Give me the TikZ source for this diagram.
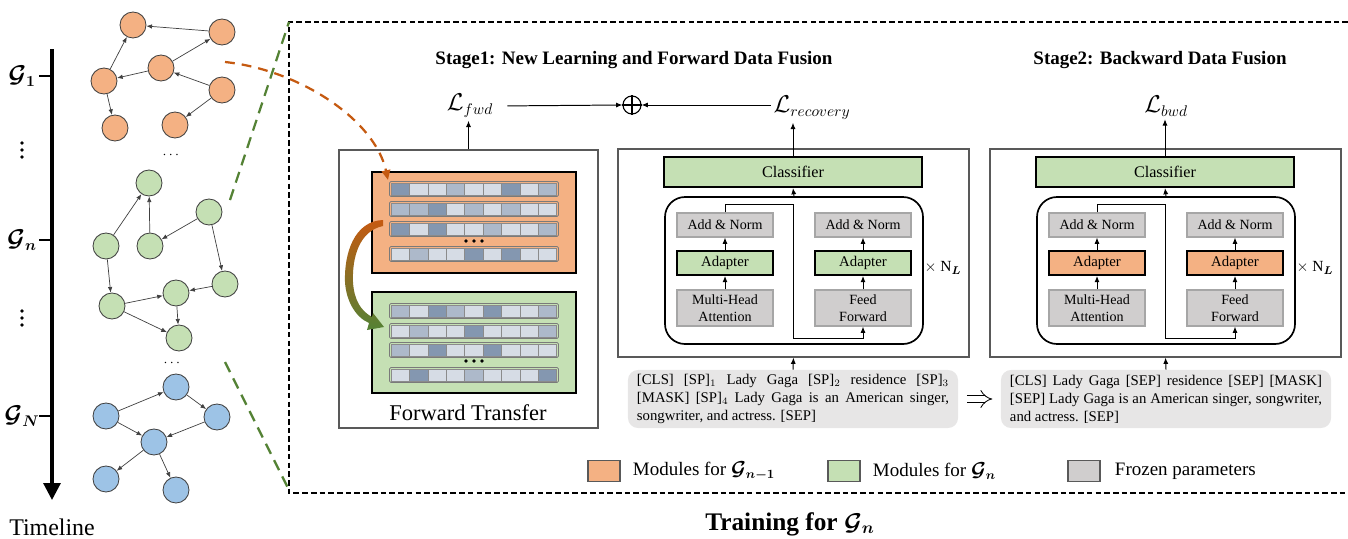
\documentclass[tikz,border=0pt]{standalone}
\usepackage{amsmath,bm}
\usepackage{fontspec}
\setmainfont{Liberation Serif}
\usetikzlibrary{arrows.meta,calc,fit}
\definecolor{CDark}{HTML}{404040}
\definecolor{CGrayDark}{HTML}{595959}
\definecolor{COrange}{HTML}{F4B183}
\definecolor{CGreen}{HTML}{C5E0B4}
\definecolor{CBlue}{HTML}{9DC3E6}
\definecolor{CGray}{HTML}{D0CECE}
\definecolor{CGrayLine}{HTML}{A6A6A6}
\definecolor{CText}{HTML}{E7E6E6}
\definecolor{CellL}{HTML}{D6DCE5}
\definecolor{CellM}{HTML}{ADB9CA}
\definecolor{CellD}{HTML}{8497B0}
\definecolor{CDashGreen}{HTML}{548235}
\definecolor{CDashOrange}{HTML}{C55A11}

\tikzset{
  gnode/.style={circle, draw=CDark, line width=0.6pt, minimum size=0.65cm, inner sep=0pt},
  garrow/.style={-{Latex[length=4pt,width=3.2pt]}, line width=0.5pt, draw=CDark},
  conn/.style={-{Latex[length=4.5pt,width=3.6pt]}, line width=0.7pt},
  panel/.style={draw=CGrayDark, line width=0.8pt, inner sep=0pt},
  modbox/.style={draw=black, line width=1.5pt, inner sep=0pt},
  clsbox/.style={draw=black, line width=1.4pt, fill=CGreen, minimum width=6.45cm, minimum height=0.75cm, font=\fontsize{11.5}{13}\selectfont},
  layerbox/.style={draw=black, line width=1.2pt, rounded corners=0.5cm, inner sep=0pt},
  frozen/.style={draw=CGrayLine, line width=0.8pt, fill=CGray, minimum width=2.4cm, minimum height=0.6cm, align=center, inner sep=1pt, font=\fontsize{10}{12}\selectfont},
  adapter/.style={draw=black, line width=1.3pt, minimum width=2.4cm, minimum height=0.6cm, inner sep=1pt, font=\fontsize{10.5}{12}\selectfont},
  loss/.style={font=\fontsize{16}{16}\selectfont, inner sep=2pt},
  stagetitle/.style={font=\fontsize{13.5}{15}\selectfont\bfseries},
  txtbox/.style={fill=CText, rounded corners=0.25cm, text width=7.8cm, align=justify, inner xsep=6.4pt, inner ysep=3pt, minimum height=1.45cm, font=\fontsize{10.5}{12.8}\selectfont},
  legbox/.style={draw=CGrayDark, line width=0.8pt, minimum width=0.8cm, minimum height=0.52cm},
  legtext/.style={anchor=west, font=\fontsize{13.5}{15}\selectfont},
  rowframe/.style={draw=CGrayDark!80, line width=0.5pt, rounded corners=1pt},
  cellbox/.style={draw=CGrayDark!70, line width=0.4pt},
}

\begin{document}
\begin{tikzpicture}[x=0.025cm, y=-0.025cm]
  \useasboundingbox (0,0) rectangle (1348,539);

  % ============================================
  % TIMELINE
  % ============================================
  \draw[line width=2.2pt, -{Triangle[length=0.42cm,width=0.42cm]}] (52,49) -- (52,500);
  \foreach \yy in {76, 240, 416} {
    \draw[line width=1.8pt] (39,\yy) -- (52,\yy);
  }
  \node[font=\fontsize{16}{16}\selectfont] (lg1) at (22,76) {$\boldsymbol{\mathcal{G}_1}$};
  \node[font=\fontsize{16}{16}\selectfont] (lgn) at (22,240) {$\boldsymbol{\mathcal{G}_n}$};
  \node[font=\fontsize{16}{16}\selectfont] (lgN) at (22,416) {$\boldsymbol{\mathcal{G}_N}$};
  % vertical ellipses
  \foreach \yy in {150, 318} {
    \foreach \dy in {-7, 0, 7} {
      \fill (22,\yy+\dy) circle[radius=1.3pt];
    }
  }
  \node[font=\fontsize{17}{17}\selectfont] (tline) at (52,527) {Timeline};

  % Graph G_1 (orange)
  \foreach \n/\x/\y in {o1/133/25, o2/222/32, o3/161/68, o4/104/81, o5/222/90, o6/115/128, o7/175/125} {
    \node[gnode, fill=COrange] (\n) at (\x,\y) {};
  }
  \foreach \a/\b in {o2/o1, o3/o2, o3/o4, o4/o1, o5/o3, o5/o7, o4/o6} {
    \draw[garrow] (\a) -- (\b);
  }
  \node[font=\bfseries] (dots1) at (172,155) {$\cdots$};

  % Graph G_n (green)
  \foreach \n/\x/\y in {g1/149/183, g2/209/212, g3/106/246, g4/150/246, g5/112/306, g6/176/293, g7/225/284, g8/179/338} {
    \node[gnode, fill=CGreen] (\n) at (\x,\y) {};
  }
  \foreach \a/\b in {g3/g1, g4/g1, g2/g4, g2/g7, g3/g5, g5/g6, g7/g6, g6/g8, g5/g8} {
    \draw[garrow] (\a) -- (\b);
  }
  \node[font=\bfseries] (dots2) at (173,363) {$\cdots$};

  % Graph G_N (blue)
  \foreach \n/\x/\y in {b1/176/387, b2/106/416, b3/217/417, b4/154/442, b5/106/479, b6/176/490} {
    \node[gnode, fill=CBlue] (\n) at (\x,\y) {};
  }
  \foreach \a/\b in {b2/b1, b1/b3, b3/b4, b2/b4, b4/b5, b4/b6} {
    \draw[garrow] (\a) -- (\b);
  }

  % ============================================
  % ZOOM FRAME
  % ============================================
  \draw[line width=1.2pt, dash pattern=on 4pt off 2.2pt] (1348,22) -- (289,22) -- (289,493) -- (1348,493);
  \draw[CDashGreen, line width=1.6pt, dash pattern=on 8pt off 5pt] (230,200) -- (289,22);
  \draw[CDashGreen, line width=1.6pt, dash pattern=on 8pt off 5pt] (225,362) -- (289,490);

  % Titles
  \node[stagetitle] (s1title) at (634,60) {Stage1: New Learning and Forward Data Fusion};
  \node[stagetitle] (s2title) at (1160,60) {Stage2: Backward Data Fusion};

  % ============================================
  % FORWARD TRANSFER
  % ============================================
  \node[fit={(339,150) (598,428)}, panel] (ftbox) {};
  \node[fit={(372,172) (576,273)}, modbox, fill=COrange] (prevmod) {};
  \node[fit={(372,292) (576,393)}, modbox, fill=CGreen] (curmod) {};

  % embedding rows
  \foreach \yy/\cells in {189/{D,L,L,M,L,L,D,L,M}, 209/{M,M,D,L,M,L,M,L,L},
      229/{D,L,D,L,L,M,L,L,M}, 254/{L,M,L,L,D,L,D,L,L},
      311/{M,L,D,M,L,D,L,L,M}, 331/{L,M,L,L,D,L,L,L,M},
      350/{M,L,D,L,L,D,L,L,L}, 375/{L,D,L,L,M,L,L,L,D}} {
    \draw[rowframe] (389.5,\yy-7.5) rectangle (558.5,\yy+7.5);
    \foreach \c [count=\i] in \cells {
      \draw[cellbox, fill=Cell\c] ({391+18.4*(\i-1)},\yy-6) rectangle ++(18.4,12);
    }
  }
  \foreach \yy in {241, 361} {
    \foreach \x in {466, 474, 482} {
      \fill (\x,\yy) circle[radius=1.4pt];
    }
  }

  % curved transfer arrow
  \shade[top color=CDashOrange, bottom color=CDashGreen]
    (383,226) .. controls (359,231) and (352,258) .. (353,282)
    .. controls (354,300) and (361,311) .. (372,317)
    -- (373,313) -- (384,327) -- (367,330) -- (369,323)
    .. controls (355,317) and (346,300) .. (345,282)
    .. controls (344,254) and (354,221) .. (383,220) -- cycle;

  \node[font=\fontsize{16}{16}\selectfont] (fttext) at (468,413) {Forward Transfer};

  % dashed link from G_1
  \draw[CDashOrange, line width=1.6pt, dash pattern=on 7pt off 5pt, -{Triangle[length=7pt,width=6pt]}]
    (225,62) .. controls (300,70) and (375,120) .. (388,180);

  % ============================================
  % STAGE 1 / STAGE 2 ENCODERS
  % ============================================
  \foreach \s/\dx/\acol in {1/0/CGreen, 2/372/COrange} {
    \node[fit={({618+\dx},149) ({969+\dx},357)}, panel] (sbox\s) {};
    \node[clsbox] (cls\s) at ({793+\dx},172) {Classifier};
    \node[fit={({665+\dx},197) ({923+\dx},344)}, layerbox] (layer\s) {};
    % left column
    \node[frozen] (lan\s) at ({725+\dx},225) {Add \& Norm};
    \node[adapter, fill=\acol] (lad\s) at ({725+\dx},263) {Adapter};
    \node[frozen, minimum height=0.9cm] (mha\s) at ({725+\dx},308) {Multi-Head\\Attention};
    % right column
    \node[frozen] (ran\s) at ({863+\dx},225) {Add \& Norm};
    \node[adapter, fill=\acol] (rad\s) at ({863+\dx},263) {Adapter};
    \node[frozen, minimum height=0.9cm] (ff\s) at ({863+\dx},308) {Feed\\Forward};
    \node[font=\fontsize{11}{12}\selectfont] (nl\s) at ({943+\dx},268) {$\times$ N$_{\boldsymbol{L}}$};

    \draw[conn] (mha\s) -- (lad\s);
    \draw[conn] (lad\s) -- (lan\s);
    \draw[conn] (ff\s) -- (rad\s);
    \draw[conn] (rad\s) -- (ran\s);
    \draw[conn] (layer\s.north) -- (cls\s.south);
    % residual route
    \coordinate (ra\s) at ({793+\dx},204);
    \coordinate (rb\s) at ({793+\dx},338);
    \draw[conn] (lan\s.north) |- (ra\s) -- (rb\s) -| (ff\s.south);
  }

  % Losses
  \node[loss] (lfwd) at (470,106) {$\mathcal{L}_{fwd}$};
  \node[loss] (lrec) at (812,108) {$\mathcal{L}_{recovery}$};
  \node[loss] (lbwd) at (1166,106) {$\mathcal{L}_{bwd}$};
  \node[circle, draw, line width=0.8pt, minimum size=0.45cm, inner sep=0pt] (oplus) at (632,105) {};
  \draw[line width=0.8pt] (oplus.north) -- (oplus.south) (oplus.west) -- (oplus.east);
  \draw[conn, shorten <=8pt] (lfwd.east) -- (oplus.west);
  \draw[conn] (lrec.west |- oplus.east) -- (oplus.east);
  \draw[conn] (ftbox.north) -- (ftbox.north |- lfwd.south);
  \draw[conn] (cls1.north) -- (cls1.north |- lrec.south);
  \draw[conn] (cls2.north) -- (cls2.north |- lbwd.south);

  % ============================================
  % INPUT SEQUENCES
  % ============================================
  \node[txtbox] (seq1) at (793,399) {[CLS] [SP]$_1$ Lady Gaga [SP]$_2$ residence [SP]$_3$ [MASK] [SP]$_4$ Lady Gaga is an American singer, songwriter, and actress. [SEP]};
  \node[txtbox] (seq2) at (1166,399) {[CLS] Lady Gaga [SEP] residence [SEP] [MASK] [SEP] Lady Gaga is an American singer, songwriter, and actress. [SEP]};
  \draw[conn] (seq1.north) -- (sbox1.south);
  \draw[conn] (seq2.north) -- (sbox2.south);
  \draw[-{Implies}, double, double distance=4pt, line width=0.6pt, shorten <=6pt, shorten >=6pt] (seq1.east) -- (seq2.west);

  % ============================================
  % LEGEND
  % ============================================
  \node[legbox, fill=COrange] (leg1) at (604,471) {};
  \node[legtext] (legt1) at (628,471) {Modules for $\boldsymbol{\mathcal{G}_{n-1}}$};
  \node[legbox, fill=CGreen] (leg2) at (844,471) {};
  \node[legtext] (legt2) at (868,471) {Modules for $\boldsymbol{\mathcal{G}_{n}}$};
  \node[legbox, fill=CGray] (leg3) at (1084,471) {};
  \node[legtext] (legt3) at (1110,471) {Frozen parameters};

  \node[font=\fontsize{18}{18}\selectfont] (train) at (790,524) {\textbf{Training for} $\boldsymbol{\mathcal{G}_n}$};

\end{tikzpicture}
\end{document}
